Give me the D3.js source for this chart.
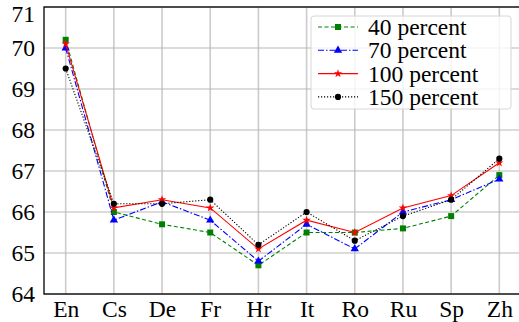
<!DOCTYPE html>
<html>
<head>
<meta charset="utf-8">
<script src="https://cdn.jsdelivr.net/npm/d3@7"></script>
<style>
  body { margin: 0; background: #fff; }
</style>
</head>
<body>
<div id="chart"></div>
<script>
const categories = ["En", "Cs", "De", "Fr", "Hr", "It", "Ro", "Ru", "Sp", "Zh"];
const yTicks = [64, 65, 66, 67, 68, 69, 70, 71];

const p40 = [70.2, 66.0, 65.7, 65.5, 64.7, 65.5, 65.5, 65.6, 65.9, 66.9];
const p70 = [70.0, 65.8, 66.25, 65.8, 64.8, 65.7, 65.1, 66.0, 66.3, 66.8];
const p100 = [70.1, 66.1, 66.3, 66.1, 65.1, 65.8, 65.5, 66.1, 66.4, 67.2];
const p150 = [69.5, 66.2, 66.2, 66.3, 65.2, 66.0, 65.3, 65.9, 66.3, 67.3];

const seriesNames = ["40 percent", "70 percent", "100 percent", "150 percent"];
const seriesValues = [p40, p70, p100, p150];

const FONT = "'Liberation Serif', 'Times New Roman', serif";

// looks for each series
const styles = [
  { color: "green", dash: "4,2.5", symbol: d3.symbolSquare, size: 36 },
  { color: "blue", dash: "6,2,1.5,2", symbol: d3.symbolTriangle, size: 30 },
  { color: "red", dash: null, symbol: d3.symbolStar, size: 22 },
  { color: "black", dash: "1.2,1.8", symbol: d3.symbolCircle, size: 30 }
];

const W = 519, H = 322;
const margin = { top: 7, right: -2, bottom: 28, left: 44 };

const svg = d3.select("#chart").append("svg")
  .attr("width", W)
  .attr("height", H)
  .style("display", "block");

const x = d3.scaleLinear()
  .domain([-0.45, categories.length - 1 + 0.45])
  .range([margin.left, W - margin.right]);

const y = d3.scaleLinear()
  .domain([64, 71])
  .range([H - margin.bottom, margin.top]);

const grid = svg.append("g");

// vertical grid
grid.selectAll(".vg")
  .data(categories)
  .enter()
  .append("line")
  .attr("x1", (d, i) => x(i))
  .attr("x2", (d, i) => x(i))
  .attr("y1", y(64))
  .attr("y2", y(71))
  .attr("stroke", "#cbcbcb")
  .attr("stroke-width", 1.6);

// horizontal grid
grid.selectAll(".hg")
  .data(yTicks)
  .enter()
  .append("line")
  .attr("x1", margin.left)
  .attr("x2", W)
  .attr("y1", d => y(d))
  .attr("y2", d => y(d))
  .attr("stroke", "#b8b8b8")
  .attr("stroke-width", 1.2);

// axes
const xAxis = d3.axisBottom(x)
  .tickValues(d3.range(categories.length))
  .tickFormat(i => categories[i])
  .tickSize(0)
  .tickPadding(6);

const yAxis = d3.axisLeft(y)
  .tickValues(yTicks)
  .tickFormat(d3.format("d"))
  .tickSize(0)
  .tickPadding(9);

const xg = svg.append("g")
  .attr("transform", `translate(0,${y(64)})`)
  .call(xAxis);
const yg = svg.append("g")
  .attr("transform", `translate(${margin.left},0)`)
  .call(yAxis);

[xg, yg].forEach(g => {
  g.attr("font-family", FONT);
  g.select(".domain").remove();
  g.selectAll("text")
    .attr("font-family", FONT)
    .attr("font-size", 23.5)
    .attr("fill", "#000");
});

// top label sits inside the picture in the original
yg.selectAll(".tick text")
  .filter(d => d === 71)
  .attr("y", 7);

// spines
svg.append("rect")
  .attr("x", margin.left)
  .attr("y", margin.top)
  .attr("width", x.range()[1] - margin.left)
  .attr("height", y(64) - margin.top)
  .attr("fill", "none")
  .attr("stroke", "#000")
  .attr("stroke-width", 1.3);

// lines + markers
const line = d3.line()
  .x((d, i) => x(i))
  .y(d => y(d));

seriesValues.forEach((vals, s) => {
  const st = styles[s];
  const g = svg.append("g");
  g.append("path")
    .datum(vals)
    .attr("d", line)
    .attr("fill", "none")
    .attr("stroke", st.color)
    .attr("stroke-width", 1.1)
    .attr("stroke-dasharray", st.dash);

  g.selectAll("path.marker")
    .data(vals)
    .enter()
    .append("path")
    .attr("class", "marker")
    .attr("d", d3.symbol().type(st.symbol).size(st.size))
    .attr("transform", (d, i) => `translate(${x(i)},${y(d)})`)
    .attr("fill", st.color);
});

// legend
const legend = svg.append("g").attr("transform", "translate(311,16)");
legend.append("rect")
  .attr("width", 200)
  .attr("height", 93)
  .attr("rx", 3)
  .attr("fill", "rgba(255,255,255,0.8)")
  .attr("stroke", "#d6d6d6")
  .attr("stroke-width", 1);

seriesNames.forEach((name, s) => {
  const st = styles[s];
  const ly = 11 + s * 23.3;
  const item = legend.append("g").attr("transform", `translate(0,${ly})`);
  item.append("line")
    .attr("x1", 7)
    .attr("x2", 47)
    .attr("stroke", st.color)
    .attr("stroke-width", 1.1)
    .attr("stroke-dasharray", st.dash);
  item.append("path")
    .attr("d", d3.symbol().type(st.symbol).size(st.size))
    .attr("transform", "translate(27,0)")
    .attr("fill", st.color);
  item.append("text")
    .attr("x", 57)
    .attr("y", 8)
    .attr("font-family", FONT)
    .attr("font-size", 23.5)
    .attr("fill", "#000")
    .text(name);
});
</script>
</body>
</html>
